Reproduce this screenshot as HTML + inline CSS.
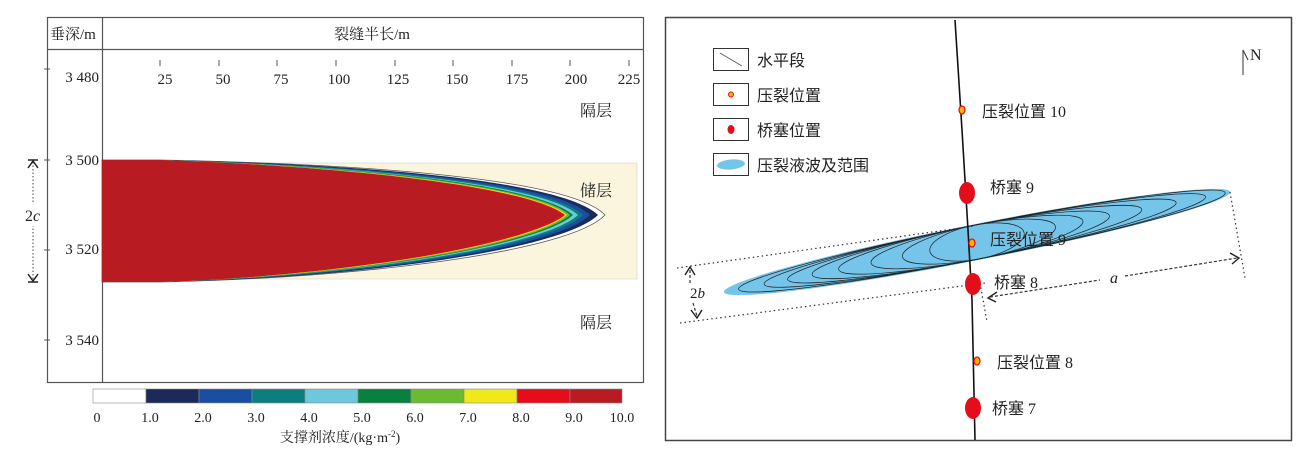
<!DOCTYPE html>
<html><head><meta charset="utf-8"><style>
html,body{margin:0;padding:0;background:#fff;}
svg{display:block;font-family:"Liberation Serif","Noto Serif CJK SC",serif;}
</style></head><body>
<svg width="1300" height="456" viewBox="0 0 1300 456" xmlns="http://www.w3.org/2000/svg">
<!-- LEFT PANEL -->
<rect x="47.5" y="17.5" width="596" height="365" fill="#fff" stroke="#555" stroke-width="1.2"/>
<line x1="47" y1="49.5" x2="644" y2="49.5" stroke="#555" stroke-width="1.2"/>
<line x1="102.5" y1="17" x2="102.5" y2="382" stroke="#555" stroke-width="1.2"/>
<text x="50" y="39" font-size="15" fill="#222">垂深/m</text>
<text x="372" y="39" font-size="15" fill="#222" text-anchor="middle">裂缝半长/m</text>
<g font-size="15" fill="#222" text-anchor="middle">
<text x="165" y="84">25</text><text x="223" y="84">50</text><text x="281" y="84">75</text><text x="339" y="84">100</text><text x="398" y="84">125</text><text x="457" y="84">150</text><text x="517" y="84">175</text><text x="576" y="84">200</text><text x="629" y="84">225</text>
</g>
<g stroke="#555" stroke-width="1">
<line x1="160" y1="60" x2="160" y2="66"/><line x1="219" y1="60" x2="219" y2="66"/><line x1="277" y1="60" x2="277" y2="66"/><line x1="336" y1="60" x2="336" y2="66"/><line x1="395" y1="60" x2="395" y2="66"/><line x1="453" y1="60" x2="453" y2="66"/><line x1="512" y1="60" x2="512" y2="66"/><line x1="570" y1="60" x2="570" y2="66"/><line x1="629" y1="60" x2="629" y2="66"/>
<line x1="44" y1="69" x2="50" y2="69"/><line x1="44" y1="160" x2="50" y2="160"/><line x1="44" y1="250" x2="50" y2="250"/><line x1="44" y1="340" x2="50" y2="340"/>
</g>
<g font-size="15" fill="#222" text-anchor="end">
<text x="99" y="82">3 480</text><text x="99" y="165">3 500</text><text x="99" y="254">3 520</text><text x="99" y="345">3 540</text>
</g>
<!-- 2c arrow -->
<line x1="33" y1="162" x2="33" y2="280" stroke="#444" stroke-width="1" stroke-dasharray="1.5,2"/>
<path d="M28,168 L33,161 L38,168 M28,274 L33,281 L38,274 M28,160 L38,160 M28,282 L38,282" fill="none" stroke="#222" stroke-width="1.5"/>
<rect x="24" y="204" width="20" height="22" fill="#fff"/>
<text x="25" y="221" font-size="16" fill="#222">2<tspan font-style="italic">c</tspan></text>
<!-- reservoir -->
<rect x="102" y="163" width="535" height="116" fill="#fbf5dd" stroke="#ddd" stroke-width="0.8"/>
<path d="M102,160 L160,160 C360,164 570,178 605,215 C570,252 360,278 160,282 L102,282 Z" fill="#fff" stroke="#555" stroke-width="0.8"/>
<path d="M102,160 L160,160 C360,164 562,180 598,215 C562,250 360,278 160,282 L102,282 Z" fill="#1b2a5a"/>
<path d="M102,160 L160,160 C360,165 556,181 590,215 C556,249 360,277 160,282 L102,282 Z" fill="#1a4ea2"/>
<path d="M102,160 L160,160 C360,165 550,183 583,215 C550,247 360,277 160,282 L102,282 Z" fill="#0b7f80"/>
<path d="M102,160 L160,160 C360,166 545,184 578,215 C545,246 360,276 160,282 L102,282 Z" fill="#6ec8dc"/>
<path d="M102,160 L160,160 C360,166 540,185 573,215 C540,245 360,276 160,282 L102,282 Z" fill="#0a8040"/>
<path d="M102,160 L160,160 C360,166 537,186 570,215 C537,244 360,276 160,282 L102,282 Z" fill="#6cb934"/>
<path d="M102,160 L160,160 C360,167 534,187 567,215 C534,243 360,275 160,282 L102,282 Z" fill="#f0e81a"/>
<path d="M102,160 L160,160 C360,167 532,188 565,215 C532,242 360,275 160,282 L102,282 Z" fill="#e60d1a"/>
<path d="M102,160 L160,160 C360,167 530,189 562,215 C530,241 360,275 160,282 L102,282 Z" fill="#b81c22"/>
<g font-size="16" fill="#222">
<text x="580" y="116">隔层</text><text x="580" y="196">储层</text><text x="580" y="328">隔层</text>
</g>
<!-- colorbar -->
<g stroke="#888" stroke-width="0.6">
<rect x="93" y="389" width="53" height="14" fill="#fff"/>
<rect x="146" y="389" width="53" height="14" fill="#1b2a5a"/>
<rect x="199" y="389" width="53" height="14" fill="#1a4ea2"/>
<rect x="252" y="389" width="53" height="14" fill="#0b7f80"/>
<rect x="305" y="389" width="53" height="14" fill="#6ec8dc"/>
<rect x="358" y="389" width="53" height="14" fill="#0a8040"/>
<rect x="411" y="389" width="53" height="14" fill="#6cb934"/>
<rect x="464" y="389" width="53" height="14" fill="#f0e81a"/>
<rect x="517" y="389" width="53" height="14" fill="#e60d1a"/>
<rect x="570" y="389" width="52" height="14" fill="#b81c22"/>
</g>
<g font-size="14" fill="#222" text-anchor="middle">
<text x="97" y="422">0</text><text x="150" y="422">1.0</text><text x="203" y="422">2.0</text><text x="256" y="422">3.0</text><text x="309" y="422">4.0</text><text x="362" y="422">5.0</text><text x="415" y="422">6.0</text><text x="468" y="422">7.0</text><text x="521" y="422">8.0</text><text x="574" y="422">9.0</text><text x="622" y="422">10.0</text>
<text x="340" y="442">支撑剂浓度/(kg·m<tspan font-size="9" dy="-5">-2</tspan><tspan dy="5">)</tspan></text>
</g>

<!-- RIGHT PANEL -->
<rect x="665.5" y="17.5" width="626" height="423" fill="#fff" stroke="#444" stroke-width="1.5"/>
<!-- legend -->
<g fill="#fff" stroke="#333" stroke-width="1">
<rect x="713.5" y="48.5" width="35" height="22"/><rect x="713.5" y="83.5" width="35" height="22"/><rect x="713.5" y="118.5" width="35" height="22"/><rect x="713.5" y="153.5" width="35" height="22"/>
</g>
<line x1="720" y1="53" x2="742" y2="66" stroke="#555" stroke-width="0.8"/>
<circle cx="731" cy="94.5" r="2.5" fill="#f6b500" stroke="#e60d1a" stroke-width="1"/>
<ellipse cx="731" cy="129.5" rx="3.5" ry="4.5" fill="#e60d1a"/>
<ellipse cx="731" cy="164.5" rx="14" ry="5" fill="#75c4ea" transform="rotate(-5 731 164.5)"/>
<g font-size="16" fill="#222" font-family="Liberation Serif, Noto Sans CJK SC, sans-serif">
<text x="757" y="66">水平段</text><text x="757" y="101">压裂位置</text><text x="757" y="136">桥塞位置</text><text x="757" y="171">压裂液波及范围</text>
</g>
<!-- N arrow -->
<path d="M1243,75 L1243,50 L1248,60" fill="none" stroke="#333" stroke-width="1"/>
<text x="1250" y="60" font-size="16" fill="#222">N</text>
<!-- ellipse -->
<g transform="translate(977,242) rotate(-11.2)">
<ellipse cx="0" cy="0" rx="258" ry="18" fill="#75c4ea"/>
<g fill="none" stroke="#222" stroke-width="0.7">
<ellipse cx="5" cy="0" rx="248" ry="17"/>
<ellipse cx="8" cy="0" rx="225" ry="17"/>
<ellipse cx="5" cy="0" rx="198" ry="17"/>
<ellipse cx="0" cy="0" rx="168" ry="17"/>
<ellipse cx="-3" cy="0" rx="138" ry="17"/>
<ellipse cx="0" cy="0" rx="108" ry="17"/>
<ellipse cx="2" cy="0" rx="78" ry="17"/>
<ellipse cx="0" cy="0" rx="48" ry="17"/>
</g>
</g>
<!-- dotted lines -->
<g stroke="#333" stroke-width="1.2" stroke-dasharray="1.5,3" fill="none">
<line x1="677" y1="268" x2="975" y2="226"/>
<line x1="680" y1="323" x2="985" y2="283"/>
<line x1="1230" y1="192" x2="1245" y2="278"/>
<line x1="980" y1="283" x2="987" y2="322"/>
</g>
<g stroke="#333" stroke-width="1.2" stroke-dasharray="3,2" fill="none">
<line x1="990" y1="297" x2="1100" y2="280"/>
<line x1="1125" y1="276" x2="1237" y2="258"/>
<line x1="690" y1="270" x2="690" y2="283"/><line x1="693" y1="303" x2="697" y2="316"/>
</g>
<path d="M997,292 L988,298 L996,302 M1230,253 L1239,258 L1232,264 M685,275 L690,267 L695,275 M691,310 L697,318 L702,310" fill="none" stroke="#222" stroke-width="1.4"/>
<text x="1110" y="283" font-size="16" font-style="italic" fill="#222">a</text>
<text x="690" y="298" font-size="15" fill="#222">2<tspan font-style="italic">b</tspan></text>
<!-- well -->
<path d="M955,20 L962,130 L968,230 L972,300 L975,440" fill="none" stroke="#111" stroke-width="1.6"/>
<ellipse cx="967" cy="193" rx="8" ry="11" fill="#e60d1a"/>
<ellipse cx="973" cy="284" rx="8" ry="11" fill="#e60d1a"/>
<ellipse cx="973" cy="408" rx="8" ry="11" fill="#e60d1a"/>
<g fill="#f6b500" stroke="#e60d1a" stroke-width="1.3">
<ellipse cx="962" cy="110" rx="3" ry="4"/>
<ellipse cx="972" cy="243" rx="3" ry="4"/>
<ellipse cx="977" cy="361" rx="3" ry="4"/>
</g>
<g font-size="16" fill="#222" font-family="Liberation Serif, Noto Sans CJK SC, sans-serif">
<text x="982" y="117">压裂位置 10</text>
<text x="990" y="193">桥塞 9</text>
<text x="990" y="245">压裂位置 9</text>
<text x="994" y="288">桥塞 8</text>
<text x="997" y="368">压裂位置 8</text>
<text x="992" y="414">桥塞 7</text>
</g>
</svg>
</body></html>
